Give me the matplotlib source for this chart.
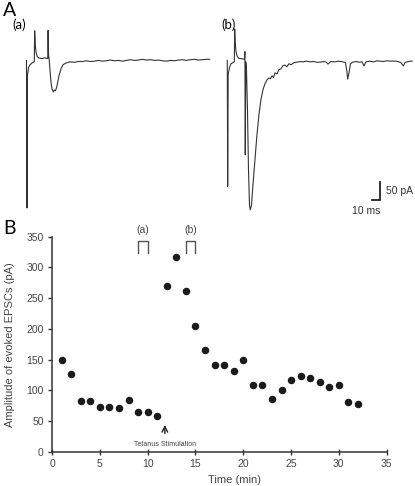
import numpy as np
import matplotlib
matplotlib.use("Agg")
import matplotlib.pyplot as plt

plt.rcParams['font.family'] = ['Liberation Sans', 'DejaVu Sans']

# --- panel B data: EPSC amplitude per trial ---
trials = [1, 2, 3, 4, 5, 6, 7, 8, 9, 10, 11, 12, 13, 14, 15, 16,
          17, 18, 19, 20, 21, 22, 23, 24, 25, 26, 27, 28, 29, 30, 31, 32]
amplitude = [150, 126, 83, 83, 72, 73, 71, 84, 65, 64, 58, 269, 317, 262, 204, 166,
             141, 141, 132, 149, 108, 109, 86, 100, 116, 124, 120, 114, 105, 108, 81, 77]

# --- panel A traces (time in ms from trace start, current in pA vs baseline) ---
trace_a_t = [0, 0.6, 1.25, 2.5, 4.4, 6.9, 9.75, 10.25, 11, 11.9, 13.1, 15, 19.4, 23.1,
             26.6, 27, 27.6, 28.4, 29.4, 30.6, 31.9, 33.5, 35, 36.25, 38.1, 40.6, 43.1,
             45.6, 49.4, 54.4, 60, 65, 70, 75, 80, 85, 90, 95, 100, 105, 110, 115, 120,
             125, 130, 135, 140, 145, 150, 155, 160, 165, 170, 175, 180, 185, 190, 195,
             200, 205, 210, 215, 220, 225, 229]
trace_a_i = [0, -403, -40, -20, -12, -7, -4, 81, 42, 23, 12, 7, 5, 7,
             5, 82, 15, 1, -26, -59, -78, -86, -81, -83, -70, -42, -23,
             -12, -7, -4, -5, -3, -3, -1, -3, -2, 0, -2, -1, 1, -1, 0, -2,
             0, 2, 0, 1, 3, 1, 2, 0, 1, -1, -2, 0, -1, 1, 2,
             0, 2, 3, 1, 2, 3, 3]

trace_b_t = [0, 0.5, 1.1, 2.75, 4.6, 8.75, 9.25, 10, 10.9, 12.1, 14, 17.1, 21.5, 22,
             22.5, 23.1, 24, 25.25, 26.5, 27.75, 28.75, 30.25, 32.1, 34.6, 37.1, 39.6,
             42.1, 44.6, 47.1, 49.6, 52.1, 54, 55.9, 57.75, 59.6, 62.1, 64.6, 67.1, 69.6,
             72.1, 74.6, 77.1, 79.6, 83.4, 87.1, 91, 94.6, 99, 103.4, 108, 112, 115.9,
             120, 123.4, 125.9, 129.6, 134, 139, 144.6, 147.7, 149.6, 150.5, 152.1, 154,
             156.5, 161, 165, 168.4, 170.9, 173.4, 178, 183, 187, 190.9, 195, 200, 205,
             210.9, 214.6, 217.1, 220, 222.1, 224.6, 228.5, 231]
trace_b_i = [0, -344, -39, -20, -9, -4, 86, 46, 24, 13, 6, 5, 3, 24,
             -258, -4, -25, -135, -299, -395, -408, -395, -340, -271, -203, -148,
             -107, -80, -64, -53, -48, -50, -42, -47, -34, -37, -25, -23, -14,
             -13, -17, -9, -12, -6, -5, -3, -4, -2, -4, -3, -5, -5,
             -3, -4, -10, -3, -4, -2, -4, -6, -31, -51, -34, -9,
             -5, -3, -5, -4, -15, -4, -2, -4, -1, -2, -3, -1, -2,
             -2, -4, -6, -15, -6, -4, -2, -2]

fig = plt.figure(figsize=(4.15, 4.86), dpi=100)

# top panel: raw traces, 0.8 px per ms and 0.366 px per pA
ax_top = fig.add_axes([0, 261 / 486, 1, 225 / 486])
ax_top.set_xlim(0, 518.75)
ax_top.set_ylim(-449.5, 165)
ax_top.axis('off')
trace_color = '#333333'
ax_top.plot(np.array(trace_a_t) + 33.1, trace_a_i, color=trace_color, lw=0.8)
ax_top.plot(np.array(trace_b_t) + 284.1, trace_b_i, color=trace_color, lw=0.8)

# scale bar 10 ms / 50 pA
ax_top.plot([465, 475, 475], [-381, -381, -331], color='#222222', lw=1.3,
            solid_joinstyle='miter')
ax_top.text(483, -356, '50 pA', fontsize=7.5, color='#333333', ha='left', va='center')
ax_top.text(457.5, -410, '10 ms', fontsize=7.5, color='#333333', ha='center', va='center')

fig.text(3 / 415, 1 - 2 / 486, 'A', fontsize=14, va='top', ha='left',
         family=['Lato', 'DejaVu Sans'])
fig.text(12 / 415, 1 - 18 / 486, '(a)', fontsize=9.5, va='top', ha='left',
         family=['Lato', 'DejaVu Sans'])
fig.text(221 / 415, 1 - 18 / 486, '(b)', fontsize=9.5, va='top', ha='left',
         family=['Lato', 'DejaVu Sans'])
fig.text(3 / 415, 1 - 220 / 486, 'B', fontsize=14, va='top', ha='left',
         family=['Lato', 'DejaVu Sans'])

# bottom panel: amplitudes over time
ax = fig.add_axes([52 / 415, 34.3 / 486, 334.7 / 415, 215 / 486])
ax.plot(trials, amplitude, 'o', color='#1a1a1a', markersize=4.4, clip_on=False)
ax.set_xlim(0, 35)
ax.set_ylim(0, 350)
ax.set_xticks([0, 5, 10, 15, 20, 25, 30, 35])
ax.set_yticks([0, 50, 100, 150, 200, 250, 300, 350])
for side in ['top', 'right']:
    ax.spines[side].set_visible(False)
for side in ['left', 'bottom']:
    ax.spines[side].set_color('#333333')
    ax.spines[side].set_linewidth(1.1)
ax.tick_params(axis='x', direction='inout', length=4, width=1, colors='#333333',
               labelsize=7.5, labelcolor='#444444', pad=3)
ax.tick_params(axis='y', direction='out', length=3, width=1, colors='#333333',
               labelsize=7.5, labelcolor='#444444', pad=3)
ax.set_ylabel('Amplitude of evoked EPSCs (pA)', fontsize=8, color='#444444')
ax.yaxis.set_label_coords(-0.11, 0.5)

# markers for the traces shown in A
for x0, lab in [(9, '(a)'), (14, '(b)')]:
    ax.plot([x0, x0, x0 + 1, x0 + 1], [323, 343, 343, 323], color='#555555',
            lw=1.0, clip_on=False)
    ax.text(x0 + 0.5, 361, lab, fontsize=7.5, color='#444444', ha='center', va='center')

# tetanus arrow
ax.annotate('', xy=(11.8, 48), xytext=(11.8, 25),
            arrowprops=dict(arrowstyle='->', lw=1.0, color='#222222'))
ax.text(11.8, 11, 'Tetanus Stimulation', fontsize=5, color='#444444',
        ha='center', va='center')

# x label at the very bottom edge
fig.text(234 / 415, 1 / 486, 'Time (min)', fontsize=8, color='#444444',
         ha='center', va='bottom')

fig.savefig('out.png', dpi=100)
